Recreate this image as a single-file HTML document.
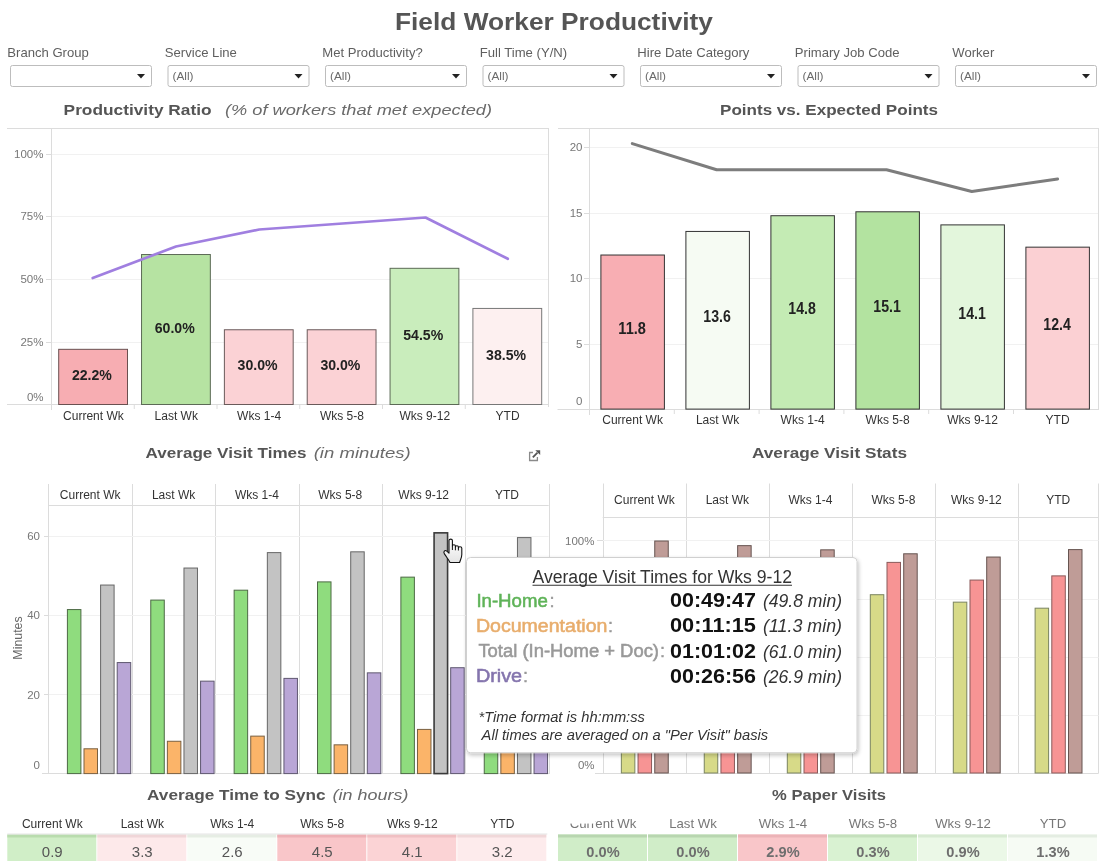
<!DOCTYPE html>
<html><head><meta charset="utf-8"><style>
html,body{margin:0;padding:0;background:#fff;width:1100px;height:861px;overflow:hidden}
svg{display:block;font-family:"Liberation Sans", sans-serif;will-change:transform}
</style></head><body>
<svg width="1100" height="861" viewBox="0 0 1100 861">
<rect x="0" y="0" width="1100" height="861" fill="#fff"/>
<text x="554" y="29.6" font-size="24.3" font-weight="bold" fill="#555" text-anchor="middle" textLength="318" lengthAdjust="spacingAndGlyphs">Field Worker Productivity</text>
<text x="7.3" y="56.7" font-size="13.1" fill="#5f5f5f" text-anchor="start">Branch Group</text>
<rect x="10.50" y="65.50" width="141.00" height="21.00" fill="#fff" stroke="#bdbdbd" stroke-width="1" rx="2"/>
<path d="M137.0,74 L145.0,74 L141.0,78.5 Z" fill="#222"/>
<text x="164.8" y="56.7" font-size="13.1" fill="#5f5f5f" text-anchor="start">Service Line</text>
<rect x="168.00" y="65.50" width="141.00" height="21.00" fill="#fff" stroke="#bdbdbd" stroke-width="1" rx="2"/>
<text x="172.5" y="80" font-size="11.8" fill="#6a6a6a" text-anchor="start">(All)</text>
<path d="M294.5,74 L302.5,74 L298.5,78.5 Z" fill="#222"/>
<text x="322.3" y="56.7" font-size="13.1" fill="#5f5f5f" text-anchor="start">Met Productivity?</text>
<rect x="325.50" y="65.50" width="141.00" height="21.00" fill="#fff" stroke="#bdbdbd" stroke-width="1" rx="2"/>
<text x="330.0" y="80" font-size="11.8" fill="#6a6a6a" text-anchor="start">(All)</text>
<path d="M452.0,74 L460.0,74 L456.0,78.5 Z" fill="#222"/>
<text x="479.8" y="56.7" font-size="13.1" fill="#5f5f5f" text-anchor="start">Full Time (Y/N)</text>
<rect x="483.00" y="65.50" width="141.00" height="21.00" fill="#fff" stroke="#bdbdbd" stroke-width="1" rx="2"/>
<text x="487.5" y="80" font-size="11.8" fill="#6a6a6a" text-anchor="start">(All)</text>
<path d="M609.5,74 L617.5,74 L613.5,78.5 Z" fill="#222"/>
<text x="637.3" y="56.7" font-size="13.1" fill="#5f5f5f" text-anchor="start">Hire Date Category</text>
<rect x="640.50" y="65.50" width="141.00" height="21.00" fill="#fff" stroke="#bdbdbd" stroke-width="1" rx="2"/>
<text x="645.0" y="80" font-size="11.8" fill="#6a6a6a" text-anchor="start">(All)</text>
<path d="M767.0,74 L775.0,74 L771.0,78.5 Z" fill="#222"/>
<text x="794.8" y="56.7" font-size="13.1" fill="#5f5f5f" text-anchor="start">Primary Job Code</text>
<rect x="798.00" y="65.50" width="141.00" height="21.00" fill="#fff" stroke="#bdbdbd" stroke-width="1" rx="2"/>
<text x="802.5" y="80" font-size="11.8" fill="#6a6a6a" text-anchor="start">(All)</text>
<path d="M924.5,74 L932.5,74 L928.5,78.5 Z" fill="#222"/>
<text x="952.3" y="56.7" font-size="13.1" fill="#5f5f5f" text-anchor="start">Worker</text>
<rect x="955.50" y="65.50" width="141.00" height="21.00" fill="#fff" stroke="#bdbdbd" stroke-width="1" rx="2"/>
<text x="960.0" y="80" font-size="11.8" fill="#6a6a6a" text-anchor="start">(All)</text>
<path d="M1082.0,74 L1090.0,74 L1086.0,78.5 Z" fill="#222"/>
<text x="63.6" y="115" font-size="15.2" font-weight="bold" fill="#555" text-anchor="start" textLength="148" lengthAdjust="spacingAndGlyphs">Productivity Ratio</text>
<text x="225" y="115" font-size="15.2" font-style="italic" fill="#6a6a6a" text-anchor="start" textLength="267" lengthAdjust="spacingAndGlyphs">(% of workers that met expected)</text>
<text x="720" y="115" font-size="15.2" font-weight="bold" fill="#555" text-anchor="start" textLength="218" lengthAdjust="spacingAndGlyphs">Points vs. Expected Points</text>
<line x1="7" y1="128.5" x2="548" y2="128.5" stroke="#dcdcdc" stroke-width="1"/>
<line x1="548.5" y1="128" x2="548.5" y2="407" stroke="#dcdcdc" stroke-width="1"/>
<line x1="51.5" y1="154.5" x2="548" y2="154.5" stroke="#f1f1f1" stroke-width="1"/>
<line x1="46" y1="154.5" x2="51.5" y2="154.5" stroke="#dcdcdc" stroke-width="1"/>
<line x1="51.5" y1="216.5" x2="548" y2="216.5" stroke="#f1f1f1" stroke-width="1"/>
<line x1="46" y1="216.5" x2="51.5" y2="216.5" stroke="#dcdcdc" stroke-width="1"/>
<line x1="51.5" y1="279.5" x2="548" y2="279.5" stroke="#f1f1f1" stroke-width="1"/>
<line x1="46" y1="279.5" x2="51.5" y2="279.5" stroke="#dcdcdc" stroke-width="1"/>
<line x1="51.5" y1="342.5" x2="548" y2="342.5" stroke="#f1f1f1" stroke-width="1"/>
<line x1="46" y1="342.5" x2="51.5" y2="342.5" stroke="#dcdcdc" stroke-width="1"/>
<text x="43.5" y="157.7" font-size="11.5" fill="#777" text-anchor="end">100%</text>
<text x="43.5" y="220.39999999999998" font-size="11.5" fill="#777" text-anchor="end">75%</text>
<text x="43.5" y="283.1" font-size="11.5" fill="#777" text-anchor="end">50%</text>
<text x="43.5" y="345.8" font-size="11.5" fill="#777" text-anchor="end">25%</text>
<text x="43.5" y="401.3" font-size="11.5" fill="#777" text-anchor="end">0%</text>
<line x1="51.5" y1="128" x2="51.5" y2="410" stroke="#dcdcdc" stroke-width="1"/>
<line x1="7" y1="404.5" x2="548" y2="404.5" stroke="#dcdcdc" stroke-width="1"/>
<rect x="58.70" y="349.32" width="68.80" height="55.18" fill="#f7adb2" stroke="#6a5050" stroke-width="1"/>
<text x="91.9" y="380.1612" font-size="15.2" font-weight="bold" fill="#222" text-anchor="middle" textLength="40" lengthAdjust="spacingAndGlyphs">22.2%</text>
<text x="93.4" y="419.6" font-size="12" fill="#333" text-anchor="middle">Current Wk</text>
<rect x="141.54" y="254.52" width="68.80" height="149.98" fill="#b6e3a2" stroke="#5c6a56" stroke-width="1"/>
<text x="174.74" y="332.76" font-size="15.2" font-weight="bold" fill="#222" text-anchor="middle" textLength="40" lengthAdjust="spacingAndGlyphs">60.0%</text>
<text x="176.24" y="419.6" font-size="12" fill="#333" text-anchor="middle">Last Wk</text>
<line x1="134.25" y1="405" x2="134.25" y2="409" stroke="#dcdcdc" stroke-width="1"/>
<rect x="224.38" y="329.76" width="68.80" height="74.74" fill="#fbd2d5" stroke="#6a5a5a" stroke-width="1"/>
<text x="257.58" y="370.38" font-size="15.2" font-weight="bold" fill="#222" text-anchor="middle" textLength="40" lengthAdjust="spacingAndGlyphs">30.0%</text>
<text x="259.08" y="419.6" font-size="12" fill="#333" text-anchor="middle">Wks 1-4</text>
<line x1="217.0" y1="405" x2="217.0" y2="409" stroke="#dcdcdc" stroke-width="1"/>
<rect x="307.22" y="329.76" width="68.80" height="74.74" fill="#fbd2d5" stroke="#6a5a5a" stroke-width="1"/>
<text x="340.42" y="370.38" font-size="15.2" font-weight="bold" fill="#222" text-anchor="middle" textLength="40" lengthAdjust="spacingAndGlyphs">30.0%</text>
<text x="341.92" y="419.6" font-size="12" fill="#333" text-anchor="middle">Wks 5-8</text>
<line x1="299.75" y1="405" x2="299.75" y2="409" stroke="#dcdcdc" stroke-width="1"/>
<rect x="390.06" y="268.31" width="68.80" height="136.19" fill="#c9edbc" stroke="#5c6a56" stroke-width="1"/>
<text x="423.26" y="339.657" font-size="15.2" font-weight="bold" fill="#222" text-anchor="middle" textLength="40" lengthAdjust="spacingAndGlyphs">54.5%</text>
<text x="424.76" y="419.6" font-size="12" fill="#333" text-anchor="middle">Wks 9-12</text>
<line x1="382.5" y1="405" x2="382.5" y2="409" stroke="#dcdcdc" stroke-width="1"/>
<rect x="472.90" y="308.44" width="68.80" height="96.06" fill="#fdf0f0" stroke="#777" stroke-width="1"/>
<text x="506.1" y="359.721" font-size="15.2" font-weight="bold" fill="#222" text-anchor="middle" textLength="40" lengthAdjust="spacingAndGlyphs">38.5%</text>
<text x="507.6" y="419.6" font-size="12" fill="#333" text-anchor="middle">YTD</text>
<line x1="465.25" y1="405" x2="465.25" y2="409" stroke="#dcdcdc" stroke-width="1"/>
<polyline points="92.7,278.0 176.0,246.5 259.3,229.5 342.6,223.5 425.5,217.5 507.8,258.8" fill="none" stroke="#a07fe0" stroke-width="2.7" stroke-linejoin="round" stroke-linecap="round"/>
<line x1="558" y1="128.5" x2="1098" y2="128.5" stroke="#dcdcdc" stroke-width="1"/>
<line x1="1098.5" y1="128" x2="1098.5" y2="410" stroke="#dcdcdc" stroke-width="1"/>
<line x1="589.5" y1="147.5" x2="1098" y2="147.5" stroke="#f1f1f1" stroke-width="1"/>
<line x1="584" y1="147.5" x2="589.5" y2="147.5" stroke="#dcdcdc" stroke-width="1"/>
<line x1="589.5" y1="213.5" x2="1098" y2="213.5" stroke="#f1f1f1" stroke-width="1"/>
<line x1="584" y1="213.5" x2="589.5" y2="213.5" stroke="#dcdcdc" stroke-width="1"/>
<line x1="589.5" y1="278.5" x2="1098" y2="278.5" stroke="#f1f1f1" stroke-width="1"/>
<line x1="584" y1="278.5" x2="589.5" y2="278.5" stroke="#dcdcdc" stroke-width="1"/>
<line x1="589.5" y1="344.5" x2="1098" y2="344.5" stroke="#f1f1f1" stroke-width="1"/>
<line x1="584" y1="344.5" x2="589.5" y2="344.5" stroke="#dcdcdc" stroke-width="1"/>
<text x="582.5" y="151.10000000000002" font-size="11.5" fill="#777" text-anchor="end">20</text>
<text x="582.5" y="216.60000000000002" font-size="11.5" fill="#777" text-anchor="end">15</text>
<text x="582.5" y="282.1" font-size="11.5" fill="#777" text-anchor="end">10</text>
<text x="582.5" y="347.6" font-size="11.5" fill="#777" text-anchor="end">5</text>
<text x="582.5" y="405" font-size="11.5" fill="#777" text-anchor="end">0</text>
<line x1="589.5" y1="128" x2="589.5" y2="415" stroke="#dcdcdc" stroke-width="1"/>
<line x1="557.5" y1="409.5" x2="1098" y2="409.5" stroke="#dcdcdc" stroke-width="1"/>
<rect x="600.90" y="255.02" width="63.50" height="154.08" fill="#f8aeb3" stroke="#333" stroke-width="1"/>
<text x="632.1" y="333.61" font-size="15.8" font-weight="bold" fill="#222" text-anchor="middle" textLength="27.5" lengthAdjust="spacingAndGlyphs">11.8</text>
<text x="632.6" y="423.6" font-size="12" fill="#333" text-anchor="middle">Current Wk</text>
<rect x="685.90" y="231.44" width="63.50" height="177.66" fill="#f6fbf3" stroke="#333" stroke-width="1"/>
<text x="717.1" y="321.82000000000005" font-size="15.8" font-weight="bold" fill="#222" text-anchor="middle" textLength="27.5" lengthAdjust="spacingAndGlyphs">13.6</text>
<text x="717.6" y="423.6" font-size="12" fill="#333" text-anchor="middle">Last Wk</text>
<line x1="674.3" y1="410" x2="674.3" y2="414" stroke="#dcdcdc" stroke-width="1"/>
<rect x="770.90" y="215.72" width="63.50" height="193.38" fill="#c4ebb4" stroke="#333" stroke-width="1"/>
<text x="802.1" y="313.96000000000004" font-size="15.8" font-weight="bold" fill="#222" text-anchor="middle" textLength="27.5" lengthAdjust="spacingAndGlyphs">14.8</text>
<text x="802.6" y="423.6" font-size="12" fill="#333" text-anchor="middle">Wks 1-4</text>
<line x1="759.1" y1="410" x2="759.1" y2="414" stroke="#dcdcdc" stroke-width="1"/>
<rect x="855.90" y="211.79" width="63.50" height="197.31" fill="#b3e3a0" stroke="#333" stroke-width="1"/>
<text x="887.1" y="311.99500000000006" font-size="15.8" font-weight="bold" fill="#222" text-anchor="middle" textLength="27.5" lengthAdjust="spacingAndGlyphs">15.1</text>
<text x="887.6" y="423.6" font-size="12" fill="#333" text-anchor="middle">Wks 5-8</text>
<line x1="843.9" y1="410" x2="843.9" y2="414" stroke="#dcdcdc" stroke-width="1"/>
<rect x="940.90" y="224.89" width="63.50" height="184.21" fill="#e3f6dc" stroke="#333" stroke-width="1"/>
<text x="972.1" y="318.545" font-size="15.8" font-weight="bold" fill="#222" text-anchor="middle" textLength="27.5" lengthAdjust="spacingAndGlyphs">14.1</text>
<text x="972.6" y="423.6" font-size="12" fill="#333" text-anchor="middle">Wks 9-12</text>
<line x1="928.7" y1="410" x2="928.7" y2="414" stroke="#dcdcdc" stroke-width="1"/>
<rect x="1025.90" y="247.16" width="63.50" height="161.94" fill="#fbd0d3" stroke="#333" stroke-width="1"/>
<text x="1057.1000000000001" y="329.68" font-size="15.8" font-weight="bold" fill="#222" text-anchor="middle" textLength="27.5" lengthAdjust="spacingAndGlyphs">12.4</text>
<text x="1057.6000000000001" y="423.6" font-size="12" fill="#333" text-anchor="middle">YTD</text>
<line x1="1013.5" y1="410" x2="1013.5" y2="414" stroke="#dcdcdc" stroke-width="1"/>
<polyline points="632.3,143.6 716.6,169.8 801.5,169.8 886.5,169.8 971.8,191.5 1057.6,178.9" fill="none" stroke="#7d7d7d" stroke-width="3.0" stroke-linejoin="round" stroke-linecap="round"/>
<text x="145.6" y="457.6" font-size="15.2" font-weight="bold" fill="#555" text-anchor="start" textLength="161" lengthAdjust="spacingAndGlyphs">Average Visit Times</text>
<text x="313.7" y="457.6" font-size="15.2" font-style="italic" fill="#6a6a6a" text-anchor="start" textLength="97" lengthAdjust="spacingAndGlyphs">(in minutes)</text>
<text x="752" y="457.6" font-size="15.2" font-weight="bold" fill="#555" text-anchor="start" textLength="155" lengthAdjust="spacingAndGlyphs">Average Visit Stats</text>
<g transform="translate(529,450)"><path d="M4,2.5 H0.6 V10.5 H8.4 V7" fill="none" stroke="#8a8a8a" stroke-width="1.3"/><path d="M3.8,7.3 L8.5,2.6" stroke="#555" stroke-width="1.8" fill="none"/><path d="M6.3,0.2 L11.2,0.2 L11.2,5.1 Z" fill="#555"/></g>
<line x1="48.5" y1="484" x2="48.5" y2="774" stroke="#dcdcdc" stroke-width="1"/>
<line x1="132.5" y1="484" x2="132.5" y2="774" stroke="#dcdcdc" stroke-width="1"/>
<line x1="215.5" y1="484" x2="215.5" y2="774" stroke="#dcdcdc" stroke-width="1"/>
<line x1="299.5" y1="484" x2="299.5" y2="774" stroke="#dcdcdc" stroke-width="1"/>
<line x1="382.5" y1="484" x2="382.5" y2="774" stroke="#dcdcdc" stroke-width="1"/>
<line x1="465.5" y1="484" x2="465.5" y2="774" stroke="#dcdcdc" stroke-width="1"/>
<line x1="549.5" y1="484" x2="549.5" y2="774" stroke="#dcdcdc" stroke-width="1"/>
<line x1="48.5" y1="505.5" x2="548.7" y2="505.5" stroke="#dcdcdc" stroke-width="1"/>
<line x1="49" y1="536.5" x2="548.5" y2="536.5" stroke="#f1f1f1" stroke-width="1"/>
<line x1="44" y1="536.5" x2="49" y2="536.5" stroke="#dcdcdc" stroke-width="1"/>
<line x1="49" y1="615.5" x2="548.5" y2="615.5" stroke="#f1f1f1" stroke-width="1"/>
<line x1="44" y1="615.5" x2="49" y2="615.5" stroke="#dcdcdc" stroke-width="1"/>
<line x1="49" y1="694.5" x2="548.5" y2="694.5" stroke="#f1f1f1" stroke-width="1"/>
<line x1="44" y1="694.5" x2="49" y2="694.5" stroke="#dcdcdc" stroke-width="1"/>
<text x="40" y="540.3" font-size="11.5" fill="#777" text-anchor="end">60</text>
<text x="40" y="619.4000000000001" font-size="11.5" fill="#777" text-anchor="end">40</text>
<text x="40" y="698.5" font-size="11.5" fill="#777" text-anchor="end">20</text>
<text x="40" y="768.5" font-size="11.5" fill="#777" text-anchor="end">0</text>
<line x1="42" y1="773.5" x2="548.7" y2="773.5" stroke="#dcdcdc" stroke-width="1"/>
<text transform="translate(21.8,638) rotate(-90)" font-size="12.4" fill="#666" text-anchor="middle">Minutes</text>
<text x="90.185" y="498.5" font-size="12" fill="#333" text-anchor="middle">Current Wk</text>
<rect x="67.40" y="609.57" width="13.50" height="164.03" fill="#8fdc7e" stroke="#4d6a45" stroke-width="1"/>
<rect x="84.00" y="748.79" width="13.50" height="24.81" fill="#fbb469" stroke="#7a6040" stroke-width="1"/>
<rect x="100.60" y="585.05" width="13.50" height="188.55" fill="#c3c3c3" stroke="#666" stroke-width="1"/>
<rect x="117.20" y="662.57" width="13.50" height="111.03" fill="#b9a6d6" stroke="#5f5870" stroke-width="1"/>
<text x="173.555" y="498.5" font-size="12" fill="#333" text-anchor="middle">Last Wk</text>
<rect x="150.77" y="600.08" width="13.50" height="173.52" fill="#8fdc7e" stroke="#4d6a45" stroke-width="1"/>
<rect x="167.37" y="741.27" width="13.50" height="32.33" fill="#fbb469" stroke="#7a6040" stroke-width="1"/>
<rect x="183.97" y="568.04" width="13.50" height="205.56" fill="#c3c3c3" stroke="#666" stroke-width="1"/>
<rect x="200.57" y="681.16" width="13.50" height="92.44" fill="#b9a6d6" stroke="#5f5870" stroke-width="1"/>
<text x="256.925" y="498.5" font-size="12" fill="#333" text-anchor="middle">Wks 1-4</text>
<rect x="234.14" y="590.19" width="13.50" height="183.41" fill="#8fdc7e" stroke="#4d6a45" stroke-width="1"/>
<rect x="250.74" y="736.13" width="13.50" height="37.47" fill="#fbb469" stroke="#7a6040" stroke-width="1"/>
<rect x="267.34" y="552.62" width="13.50" height="220.98" fill="#c3c3c3" stroke="#666" stroke-width="1"/>
<rect x="283.94" y="678.39" width="13.50" height="95.21" fill="#b9a6d6" stroke="#5f5870" stroke-width="1"/>
<text x="340.295" y="498.5" font-size="12" fill="#333" text-anchor="middle">Wks 5-8</text>
<rect x="317.51" y="581.89" width="13.50" height="191.71" fill="#8fdc7e" stroke="#4d6a45" stroke-width="1"/>
<rect x="334.11" y="744.83" width="13.50" height="28.77" fill="#fbb469" stroke="#7a6040" stroke-width="1"/>
<rect x="350.71" y="551.83" width="13.50" height="221.77" fill="#c3c3c3" stroke="#666" stroke-width="1"/>
<rect x="367.31" y="672.85" width="13.50" height="100.75" fill="#b9a6d6" stroke="#5f5870" stroke-width="1"/>
<text x="423.665" y="498.5" font-size="12" fill="#333" text-anchor="middle">Wks 9-12</text>
<rect x="400.88" y="577.14" width="13.50" height="196.46" fill="#8fdc7e" stroke="#4d6a45" stroke-width="1"/>
<rect x="417.48" y="729.41" width="13.50" height="44.19" fill="#fbb469" stroke="#7a6040" stroke-width="1"/>
<rect x="434.08" y="532.85" width="13.50" height="240.75" fill="#c3c3c3" stroke="#3a3a3a" stroke-width="1.6"/>
<rect x="450.68" y="667.71" width="13.50" height="105.89" fill="#b9a6d6" stroke="#5f5870" stroke-width="1"/>
<text x="507.035" y="498.5" font-size="12" fill="#333" text-anchor="middle">YTD</text>
<rect x="484.25" y="604.04" width="13.50" height="169.56" fill="#8fdc7e" stroke="#4d6a45" stroke-width="1"/>
<rect x="500.85" y="746.41" width="13.50" height="27.19" fill="#fbb469" stroke="#7a6040" stroke-width="1"/>
<rect x="517.45" y="537.59" width="13.50" height="236.01" fill="#c3c3c3" stroke="#666" stroke-width="1"/>
<rect x="534.05" y="671.27" width="13.50" height="102.33" fill="#b9a6d6" stroke="#5f5870" stroke-width="1"/>
<line x1="603.5" y1="483.5" x2="603.5" y2="773" stroke="#dcdcdc" stroke-width="1"/>
<line x1="686.5" y1="483.5" x2="686.5" y2="773" stroke="#dcdcdc" stroke-width="1"/>
<line x1="769.5" y1="483.5" x2="769.5" y2="773" stroke="#dcdcdc" stroke-width="1"/>
<line x1="852.5" y1="483.5" x2="852.5" y2="773" stroke="#dcdcdc" stroke-width="1"/>
<line x1="935.5" y1="483.5" x2="935.5" y2="773" stroke="#dcdcdc" stroke-width="1"/>
<line x1="1018.5" y1="483.5" x2="1018.5" y2="773" stroke="#dcdcdc" stroke-width="1"/>
<line x1="1098.5" y1="483.5" x2="1098.5" y2="773" stroke="#dcdcdc" stroke-width="1"/>
<line x1="602.7" y1="517.5" x2="1098.7" y2="517.5" stroke="#dcdcdc" stroke-width="1"/>
<line x1="603" y1="540.5" x2="1098.5" y2="540.5" stroke="#f1f1f1" stroke-width="1"/>
<line x1="597" y1="540.5" x2="603" y2="540.5" stroke="#dcdcdc" stroke-width="1"/>
<line x1="603" y1="599.5" x2="1098.5" y2="599.5" stroke="#f1f1f1" stroke-width="1"/>
<line x1="597" y1="599.5" x2="603" y2="599.5" stroke="#dcdcdc" stroke-width="1"/>
<line x1="603" y1="657.5" x2="1098.5" y2="657.5" stroke="#f1f1f1" stroke-width="1"/>
<line x1="597" y1="657.5" x2="603" y2="657.5" stroke="#dcdcdc" stroke-width="1"/>
<line x1="603" y1="715.5" x2="1098.5" y2="715.5" stroke="#f1f1f1" stroke-width="1"/>
<line x1="597" y1="715.5" x2="603" y2="715.5" stroke="#dcdcdc" stroke-width="1"/>
<text x="594.5" y="544.5" font-size="11.5" fill="#777" text-anchor="end">100%</text>
<text x="594.5" y="660.75" font-size="11.5" fill="#777" text-anchor="end">50%</text>
<text x="594.5" y="768.5" font-size="11.5" fill="#777" text-anchor="end">0%</text>
<line x1="595" y1="773.5" x2="1098.7" y2="773.5" stroke="#dcdcdc" stroke-width="1"/>
<text x="644.45" y="504" font-size="12" fill="#333" text-anchor="middle">Current Wk</text>
<rect x="621.35" y="587.50" width="13.50" height="185.50" fill="#d7da88" stroke="#7a8460" stroke-width="1"/>
<rect x="638.05" y="564.25" width="13.50" height="208.75" fill="#f79494" stroke="#8a5a5a" stroke-width="1"/>
<rect x="654.75" y="541.00" width="13.50" height="232.00" fill="#bf9c97" stroke="#665450" stroke-width="1"/>
<text x="727.35" y="504" font-size="12" fill="#333" text-anchor="middle">Last Wk</text>
<rect x="704.25" y="592.15" width="13.50" height="180.85" fill="#d7da88" stroke="#7a8460" stroke-width="1"/>
<rect x="720.95" y="568.90" width="13.50" height="204.10" fill="#f79494" stroke="#8a5a5a" stroke-width="1"/>
<rect x="737.65" y="545.65" width="13.50" height="227.35" fill="#bf9c97" stroke="#665450" stroke-width="1"/>
<text x="810.4000000000001" y="504" font-size="12" fill="#333" text-anchor="middle">Wks 1-4</text>
<rect x="787.30" y="596.80" width="13.50" height="176.20" fill="#d7da88" stroke="#7a8460" stroke-width="1"/>
<rect x="804.00" y="573.55" width="13.50" height="199.45" fill="#f79494" stroke="#8a5a5a" stroke-width="1"/>
<rect x="820.70" y="549.84" width="13.50" height="223.16" fill="#bf9c97" stroke="#665450" stroke-width="1"/>
<text x="893.4000000000001" y="504" font-size="12" fill="#333" text-anchor="middle">Wks 5-8</text>
<rect x="870.30" y="594.71" width="13.50" height="178.29" fill="#d7da88" stroke="#7a8460" stroke-width="1"/>
<rect x="887.00" y="562.39" width="13.50" height="210.61" fill="#f79494" stroke="#8a5a5a" stroke-width="1"/>
<rect x="903.70" y="553.79" width="13.50" height="219.21" fill="#bf9c97" stroke="#665450" stroke-width="1"/>
<text x="976.4000000000001" y="504" font-size="12" fill="#333" text-anchor="middle">Wks 9-12</text>
<rect x="953.30" y="602.15" width="13.50" height="170.85" fill="#d7da88" stroke="#7a8460" stroke-width="1"/>
<rect x="970.00" y="580.06" width="13.50" height="192.94" fill="#f79494" stroke="#8a5a5a" stroke-width="1"/>
<rect x="986.70" y="557.04" width="13.50" height="215.96" fill="#bf9c97" stroke="#665450" stroke-width="1"/>
<text x="1058.2" y="504" font-size="12" fill="#333" text-anchor="middle">YTD</text>
<rect x="1035.10" y="608.19" width="13.50" height="164.81" fill="#d7da88" stroke="#7a8460" stroke-width="1"/>
<rect x="1051.80" y="575.88" width="13.50" height="197.12" fill="#f79494" stroke="#8a5a5a" stroke-width="1"/>
<rect x="1068.50" y="549.60" width="13.50" height="223.40" fill="#bf9c97" stroke="#665450" stroke-width="1"/>
<defs><filter id="sh" x="-5%" y="-5%" width="110%" height="115%"><feGaussianBlur in="SourceAlpha" stdDeviation="2"/><feOffset dx="1" dy="2"/><feComponentTransfer><feFuncA type="linear" slope="0.25"/></feComponentTransfer><feMerge><feMergeNode/><feMergeNode in="SourceGraphic"/></feMerge></filter></defs>
<rect x="466.50" y="557.50" width="390.50" height="195.30" fill="#fff" stroke="#d0d0d0" stroke-width="1" rx="4" filter="url(#sh)"/>
<text x="532.5" y="582.7" font-size="17.6" fill="#333" text-anchor="start" textLength="259.5" lengthAdjust="spacingAndGlyphs">Average Visit Times for Wks 9-12</text>
<line x1="532.5" y1="585.3" x2="792" y2="585.3" stroke="#333" stroke-width="1.1"/>
<text x="476.4" y="606.6" font-size="18.3" fill="#5fb358" text-anchor="start" textLength="71.4" lengthAdjust="spacingAndGlyphs" stroke="#5fb358" stroke-width="0.55">In-Home</text>
<text x="549.5" y="606.6" font-size="18.3" fill="#999999" text-anchor="start" stroke="#999" stroke-width="0.4">:</text>
<text x="670" y="607.2" font-size="20" font-weight="bold" fill="#111" text-anchor="start" textLength="86" lengthAdjust="spacingAndGlyphs">00:49:47</text>
<text x="763" y="607.2" font-size="17.5" font-style="italic" fill="#333" text-anchor="start" textLength="79" lengthAdjust="spacingAndGlyphs">(49.8 min)</text>
<text x="475.9" y="631.6" font-size="18.3" fill="#e8ad6c" text-anchor="start" textLength="131.6" lengthAdjust="spacingAndGlyphs" stroke="#e8ad6c" stroke-width="0.55">Documentation</text>
<text x="607.9" y="631.6" font-size="18.3" fill="#999999" text-anchor="start" stroke="#999" stroke-width="0.4">:</text>
<text x="670" y="632.2" font-size="20" font-weight="bold" fill="#111" text-anchor="start" textLength="86" lengthAdjust="spacingAndGlyphs">00:11:15</text>
<text x="763" y="632.2" font-size="17.5" font-style="italic" fill="#333" text-anchor="start" textLength="79" lengthAdjust="spacingAndGlyphs">(11.3 min)</text>
<text x="478.4" y="657.2" font-size="18.3" fill="#999999" text-anchor="start" textLength="180.6" lengthAdjust="spacingAndGlyphs" stroke="#999999" stroke-width="0.55">Total (In-Home + Doc)</text>
<text x="659.9" y="657.2" font-size="18.3" fill="#999999" text-anchor="start" stroke="#999" stroke-width="0.4">:</text>
<text x="670" y="657.8000000000001" font-size="20" font-weight="bold" fill="#111" text-anchor="start" textLength="86" lengthAdjust="spacingAndGlyphs">01:01:02</text>
<text x="763" y="657.8000000000001" font-size="17.5" font-style="italic" fill="#333" text-anchor="start" textLength="79" lengthAdjust="spacingAndGlyphs">(61.0 min)</text>
<text x="475.9" y="682.2" font-size="18.3" fill="#8474ad" text-anchor="start" textLength="46.2" lengthAdjust="spacingAndGlyphs" stroke="#8474ad" stroke-width="0.55">Drive</text>
<text x="522.9" y="682.2" font-size="18.3" fill="#999999" text-anchor="start" stroke="#999" stroke-width="0.4">:</text>
<text x="670" y="682.8000000000001" font-size="20" font-weight="bold" fill="#111" text-anchor="start" textLength="86" lengthAdjust="spacingAndGlyphs">00:26:56</text>
<text x="763" y="682.8000000000001" font-size="17.5" font-style="italic" fill="#333" text-anchor="start" textLength="79" lengthAdjust="spacingAndGlyphs">(26.9 min)</text>
<text x="478.5" y="721.8" font-size="14.7" font-style="italic" fill="#333" text-anchor="start" textLength="166.4" lengthAdjust="spacingAndGlyphs">*Time format is hh:mm:ss</text>
<text x="481.6" y="740.4" font-size="14.7" font-style="italic" fill="#333" text-anchor="start" textLength="286.6" lengthAdjust="spacingAndGlyphs">All times are averaged on a "Per Visit" basis</text>
<g transform="translate(443,538.5)"><defs><linearGradient id="hg" x1="0" y1="0" x2="0" y2="1"><stop offset="0" stop-color="#fff"/><stop offset="1" stop-color="#e4e4e4"/></linearGradient></defs><path d="M6,2 C6,0.2 9.4,0.2 9.4,2 L9.4,7.4 C9.4,5.8 12.4,5.8 12.4,7.4 L12.4,8.4 C12.4,6.8 15.4,6.8 15.4,8.4 L15.4,9.4 C15.4,7.9 18.8,7.9 18.8,9.8 L18.8,16 C18.8,19 17.6,21 16.6,24 L7,24 C6,21.5 4,19.5 1.4,15.4 C0,13.2 1.8,11 3.8,12.6 L6,14.6 Z" fill="url(#hg)" stroke="#111" stroke-width="1.1" stroke-linejoin="round"/><path d="M9.4,7.4 V11.5 M12.4,8.4 V11.8 M15.4,9.4 V12" stroke="#111" stroke-width="1" fill="none"/></g>
<text x="147.1" y="799.6" font-size="15.2" font-weight="bold" fill="#555" text-anchor="start" textLength="178.5" lengthAdjust="spacingAndGlyphs">Average Time to Sync</text>
<text x="332.6" y="799.6" font-size="15.2" font-style="italic" fill="#6a6a6a" text-anchor="start" textLength="75.8" lengthAdjust="spacingAndGlyphs">(in hours)</text>
<text x="772.1" y="799.7" font-size="15.2" font-weight="bold" fill="#555" text-anchor="start" textLength="113.9" lengthAdjust="spacingAndGlyphs">% Paper Visits</text>
<rect x="7.30" y="834.50" width="89.00" height="27.00" fill="#d0eec7"/>
<rect x="7.30" y="834.50" width="89.00" height="3.00" fill="#b9dcae"/>
<text x="52.3" y="827.7" font-size="12" fill="#333" text-anchor="middle">Current Wk</text>
<text x="52.3" y="856.8" font-size="15" fill="#555" text-anchor="middle">0.9</text>
<rect x="97.30" y="834.50" width="89.00" height="27.00" fill="#fde9ea"/>
<rect x="97.30" y="834.50" width="89.00" height="3.00" fill="#f0d6d8"/>
<text x="142.3" y="827.7" font-size="12" fill="#333" text-anchor="middle">Last Wk</text>
<text x="142.3" y="856.8" font-size="15" fill="#555" text-anchor="middle">3.3</text>
<rect x="187.30" y="834.50" width="89.00" height="27.00" fill="#f8fcf7"/>
<rect x="187.30" y="834.50" width="89.00" height="3.00" fill="#e6ede4"/>
<text x="232.3" y="827.7" font-size="12" fill="#333" text-anchor="middle">Wks 1-4</text>
<text x="232.3" y="856.8" font-size="15" fill="#555" text-anchor="middle">2.6</text>
<rect x="277.30" y="834.50" width="89.00" height="27.00" fill="#f9c6c9"/>
<rect x="277.30" y="834.50" width="89.00" height="3.00" fill="#eeb0b5"/>
<text x="322.3" y="827.7" font-size="12" fill="#333" text-anchor="middle">Wks 5-8</text>
<text x="322.3" y="856.8" font-size="15" fill="#555" text-anchor="middle">4.5</text>
<rect x="367.30" y="834.50" width="89.00" height="27.00" fill="#fbd3d5"/>
<rect x="367.30" y="834.50" width="89.00" height="3.00" fill="#f0c0c3"/>
<text x="412.3" y="827.7" font-size="12" fill="#333" text-anchor="middle">Wks 9-12</text>
<text x="412.3" y="856.8" font-size="15" fill="#555" text-anchor="middle">4.1</text>
<rect x="457.30" y="834.50" width="89.00" height="27.00" fill="#fdebec"/>
<rect x="457.30" y="834.50" width="89.00" height="3.00" fill="#f0d8d9"/>
<text x="502.3" y="827.7" font-size="12" fill="#333" text-anchor="middle">YTD</text>
<text x="502.3" y="856.8" font-size="15" fill="#555" text-anchor="middle">3.2</text>
<line x1="7.3" y1="834" x2="547.3" y2="834" stroke="#e4e4e4" stroke-width="1"/>
<rect x="558.00" y="834.50" width="89.00" height="27.00" fill="#d0edc8"/>
<rect x="558.00" y="834.50" width="89.00" height="3.00" fill="#b8d6b0"/>
<text x="603.0" y="827.5" font-size="13.2" fill="#777" text-anchor="middle">Current Wk</text>
<text x="603.0" y="856.8" font-size="14.6" font-weight="bold" fill="#6e6e6e" text-anchor="middle">0.0%</text>
<rect x="648.00" y="834.50" width="89.00" height="27.00" fill="#d0edc8"/>
<rect x="648.00" y="834.50" width="89.00" height="3.00" fill="#b8d6b0"/>
<text x="693.0" y="827.5" font-size="13.2" fill="#777" text-anchor="middle">Last Wk</text>
<text x="693.0" y="856.8" font-size="14.6" font-weight="bold" fill="#6e6e6e" text-anchor="middle">0.0%</text>
<rect x="738.00" y="834.50" width="89.00" height="27.00" fill="#f9c6c9"/>
<rect x="738.00" y="834.50" width="89.00" height="3.00" fill="#ecb3b7"/>
<text x="783.0" y="827.5" font-size="13.2" fill="#777" text-anchor="middle">Wks 1-4</text>
<text x="783.0" y="856.8" font-size="14.6" font-weight="bold" fill="#6e6e6e" text-anchor="middle">2.9%</text>
<rect x="828.00" y="834.50" width="89.00" height="27.00" fill="#d9f2d2"/>
<rect x="828.00" y="834.50" width="89.00" height="3.00" fill="#c5e0bd"/>
<text x="873.0" y="827.5" font-size="13.2" fill="#777" text-anchor="middle">Wks 5-8</text>
<text x="873.0" y="856.8" font-size="14.6" font-weight="bold" fill="#6e6e6e" text-anchor="middle">0.3%</text>
<rect x="918.00" y="834.50" width="89.00" height="27.00" fill="#ebf8e7"/>
<rect x="918.00" y="834.50" width="89.00" height="3.00" fill="#d8ead3"/>
<text x="963.0" y="827.5" font-size="13.2" fill="#777" text-anchor="middle">Wks 9-12</text>
<text x="963.0" y="856.8" font-size="14.6" font-weight="bold" fill="#6e6e6e" text-anchor="middle">0.9%</text>
<rect x="1008.00" y="834.50" width="89.00" height="27.00" fill="#f6fbf4"/>
<rect x="1008.00" y="834.50" width="89.00" height="3.00" fill="#e4ede2"/>
<text x="1053.0" y="827.5" font-size="13.2" fill="#777" text-anchor="middle">YTD</text>
<text x="1053.0" y="856.8" font-size="14.6" font-weight="bold" fill="#6e6e6e" text-anchor="middle">1.3%</text>
<rect x="568.00" y="816.00" width="27.00" height="7.60" fill="#fff"/>
</svg>
</body></html>
